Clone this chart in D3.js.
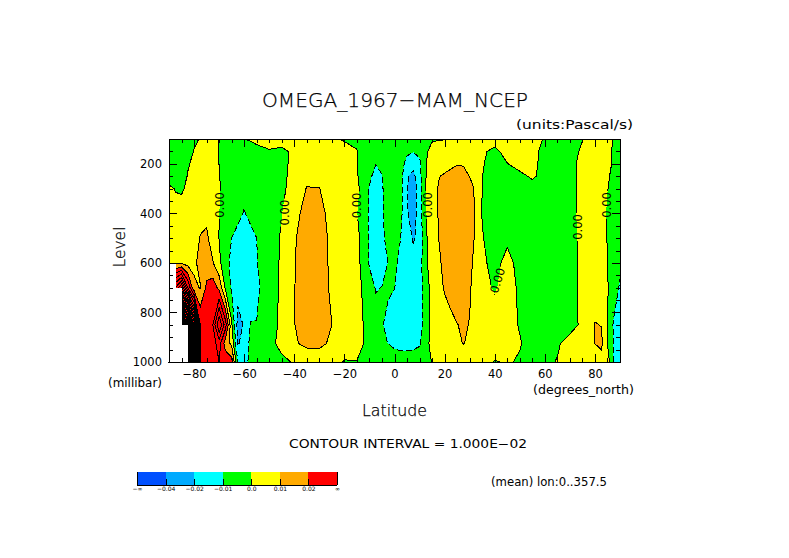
<!DOCTYPE html>
<html>
<head>
<meta charset="utf-8">
<title>OMEGA_1967-MAM_NCEP</title>
<script src="https://cdn.jsdelivr.net/npm/d3@7"></script>
<style>
  body { margin: 0; background: #fff; }
  text { font-family: "DejaVu Sans", sans-serif; fill: #000; }
  .tick text { font-family: "DejaVu Sans", sans-serif; }
</style>
</head>
<body>
<div id="chart"></div>
<script>
// latitude and pressure of the grid points
const lats = [-90,-87.5,-85,-82.5,-80,-77.5,-75,-72.5,-70,-67.5,-65,-62.5,-60,-57.5,-55,
  -50,-45,-40,-35,-30,-25,-20,-15,-10,
  -7.5,-5,-2.5,0,2.5,5,7.5,10,12.5,15,17.5,20,22.5,25,27.5,30,32.5,35,
  40,45,50,55,60,65,70,75,
  77.5,80,82.5,85,87.5,90];
const levels = [100,150,200,250,300,400,500,600,700,850,925,1000];

// omega, in 0.001 Pa/s, one list per level
const omega100 = [-4,-4,-4,-3.5,-1.5,0.5,2.5,1.5,-0.1,-2,-3,-2,-0.05,0.5,1,
  2,3,4,3.5,2.5,0.8,-0.5,-1,-2.5,
  -3,-3,-3,-3,-4,-5,-5.5,-5,-3,-0.6,-0.4,-0.3,-0.3,-0.1,0.5,1,1.5,1.5,
  1.5,1.2,1,0.5,-0.1,-1,-1,-0.2,
  1.5,2.5,3,1.5,-0.5,-2];
const omega150 = [-4.5,-5,-4.5,-3.5,0.4,2.5,3.5,3,-0.1,-3,-4,-4,-3,-2.2,-1.2,
  -0.4,-1.5,1.5,4,4.5,4,2,0.2,-4,
  -5,-5,-5,-4.5,-6,-8,-9.5,-8,-1,2,3,4,4.5,5,4.5,4,3,0.5,
  -0.8,1.2,2,1,-1,-2.5,-2,0.8,
  3,4,4,2,-0.8,-2];
const omega200 = [-5,-5.5,-5,-0.8,1.8,4,5,4,-0.1,-3.5,-5,-5.5,-5.5,-4.5,-3.5,
  -2.5,-1.5,1.5,5,6,5.5,3.5,0.4,-6,
  -9.8,-8.5,-6.5,-5,-6,-13.5,-16.5,-12,-0.2,3,5,7,8.5,9.7,9.5,8,5.5,0.3,
  -1.5,-0.1,1.5,0.8,-1,-3,-1.5,1.5,
  4,5,4.5,2,-1,-2.5];
const omega250 = [-5,-5,-4,0.5,3,5,6,5,0.4,-3.5,-5.5,-6.5,-7,-6,-5,
  -3.5,-1.5,2,7,8.5,7.5,4.5,0.8,-8.5,
  -12.5,-10.3,-6,-5,-6.5,-19,-23,-13,-0.2,3.5,9.5,11,12,12.5,12,9.8,6,0.1,
  -3,-2.5,-1,0.6,-1.3,-3,-1.5,1.5,
  4.5,6,5.5,1,-2,-3];
const omega300 = [2,-0.5,-1,1.5,3.5,5.5,6.5,5.5,0.8,-3,-5.5,-7,-8,-7,-6,
  -4,-1.5,3,10.5,10.1,8,5,2.5,-10.5,
  -14,-10.5,-7.5,-5.5,-6.5,-19.5,-26,-14,0.3,4.5,10.5,13,14.5,15,15,14,8,-0.1,
  -5,-5,-4,-1.5,-3,-3.5,-1.5,1.5,
  5,6.5,6,0.3,-3,-3.5];
const omega400 = [2,3,3,4,5,7,8,5,0.1,-3,-5,-8,-10.5,-8,-6,
  -3,-0.2,6.5,14,14,5.5,4,0.4,-11,
  -14.5,-10.8,-7,-5,-7.5,-19,-25,-15,-0.4,3.5,10.5,13.5,15,15.5,15.5,14.5,8.5,-0.5,
  -6,-7,-6.5,-5.5,-4.5,-3.5,-1.5,1.5,
  5,7,5.5,-1.5,-4,-4];
const omega500 = [4,4.5,5,5,6,10.5,11.5,6,-0.2,-6,-10,-12.5,-14,-12.5,-10,
  -3.5,0.8,9,15,15.5,7,5,3,-11,
  -15,-12,-7,-5.5,-10,-15,-21,-17,-1,4,9.8,13.5,15,16,16,15,8,0.6,
  -4.5,-1.5,-6.5,-5.5,-4.5,-3.5,-1.5,1,
  4.5,6,5,-0.5,-3.5,-4];
const omega600 = [5,8,8,6,8,13,15,10.5,2.5,-7,-12,-14,-15,-14,-10.5,
  -3.5,1,9.5,15,15.5,7.5,5,3.5,-11,
  -14,-12.5,-9.8,-8.5,-12,-15,-17,-15,-1.5,4,8.5,12,14.5,15.5,15.5,13,6,1.5,
  -2.5,2.5,-2.5,-3.5,-3.5,-3,-1.5,1,
  4,5,4.5,0,-4,-7];
const omega700 = [60,60,80,40,12,9.5,22,26,17,-1,-11.5,-16,-17,-15,-12,
  -4,1.5,9.7,15.5,15.5,8,5,3.5,-6,
  -10.5,-9.8,-9,-9.8,-13,-15,-16,-15,-3,2.5,7,10.8,13,14,14,11,6,1.5,
  -0.5,2,-0.8,-3,-3,-2.5,-1.5,1,
  3.5,4,4,0.5,-4,-11.5];
const omega850 = [200,250,240,180,110,30,22,30,60,35,1.5,-24,-19,-9.5,-9.7,
  -3,1.5,9.7,15,16,10,6,4,-4,
  -7,-9.5,-12,-15,-17,-17.5,-17,-16.5,-3,1.5,4.5,6,8,9.8,11,9.7,7,4.5,
  2.5,1.5,-0.3,-2,-2.5,-2.5,-1.5,0.8,
  7,10.5,9.7,0,-11.5,-14];
const omega925 = [300,350,350,300,200,30,25,25,35,15,8,-21,-16,-8,-5,
  -2,2,9,12,12,8.5,4,3,-2.5,
  -5,-8,-10.2,-13,-15,-15,-14,-11.5,-2,2,4,5.5,7,8.5,10.3,8.5,6.5,4.5,
  3,2,0.3,-1.5,-1.5,-0.5,1.5,1.5,
  5,10.1,12.5,0,-10.5,-12];
const omega1000 = [400,450,450,350,180,27,24,23,30,28,24,-10.2,-11.5,-9,-6,
  -3.5,-1.5,0.6,4,5,3,-0.5,-0.3,-2,
  -2,-2,-2,-2.5,-2.5,-2.5,-2.5,-2,-1.5,0.2,1,1.5,2,2,3,3,3,2.5,
  -0.3,0.5,-0.5,-1,-0.8,0.2,1.5,3,
  4,5,5,5,-11,-12];

// colour bands and their limits (same unit as omega)
const bandBreaks = [-40,-20,-10,0,10,20];
const bandColors = ["#0050ff","#00aaff","#00ffff","#00ff00","#ffff00","#ffaa00","#ff0000"];
const barLabels = ["−∞","−0.04","−0.02","−0.01","0.0","0.01","0.02","∞"];

// below-ground part: from this level down, nothing west of this latitude
const groundLevels = [600,700,850];
const groundLats = [-87.3,-85,-82.5];

// the "0.00" contour labels
const labelLats = [-69.85,-43.7,-15,13.2,73.1,84.7,41.1];
const labelLevels = [366,397,368,366,455,366,671];
const labelAngles = [-90,-90,-90,-90,-90,-90,-72];

const latTicks = [-80,-60,-40,-20,0,20,40,60,80];
const levelTicks = [200,400,600,800,1000];

const width = 789;
const height = 558;

const x = d3.scaleLinear().domain([-90,90]).range([169,620]);
const y = d3.scaleLinear().domain([100,1000]).range([139,362]);

const rows = [omega100,omega150,omega200,omega250,omega300,omega400,omega500,omega600,omega700,omega850,omega925,omega1000];
const values = rows.flat();

const svg = d3.select("#chart").append("svg")
  .attr("width", width)
  .attr("height", height)
  .style("display", "block");

// d3.contours puts grid value i at i+0.5, so map that back to lat/level
const gridX = d3.scaleLinear().domain(lats.map((d,i) => i+0.5)).range(lats.map(d => x(d))).clamp(true);
const gridY = d3.scaleLinear().domain(levels.map((d,i) => i+0.5)).range(levels.map(d => y(d))).clamp(true);
const path = d3.geoPath(d3.geoTransform({
  point: function(px, py) { this.stream.point(gridX(px), gridY(py)); }
}));

const contours = d3.contours().size([lats.length, levels.length]);

// fills
const plot = svg.append("g").attr("shape-rendering", "crispEdges");
plot.append("rect")
  .attr("x", x(-90)).attr("y", y(100))
  .attr("width", x(90)-x(-90)).attr("height", y(1000)-y(100))
  .attr("fill", bandColors[0]);
plot.selectAll("path.band")
  .data(contours.thresholds(bandBreaks)(values))
  .enter()
  .append("path")
  .attr("class", "band")
  .attr("d", path)
  .attr("fill", (d,i) => bandColors[i+1]);

// the lines leave a gap where a label sits
const mask = svg.append("mask").attr("id", "labelgaps")
  .attr("maskUnits", "userSpaceOnUse")
  .attr("x", 0).attr("y", 0).attr("width", width).attr("height", height);
mask.append("rect").attr("width", width).attr("height", height).attr("fill", "#fff");
mask.selectAll("rect.gap")
  .data(labelLats)
  .enter()
  .append("rect")
  .attr("class", "gap")
  .attr("x", -14).attr("y", -5).attr("width", 28).attr("height", 10)
  .attr("fill", "#000")
  .attr("transform", (d,i) => `translate(${x(d)},${y(labelLevels[i])}) rotate(${labelAngles[i]})`);

// contour lines every 0.01, negative ones dashed
const lineLevels = d3.range(-20, 451, 10);
plot.append("g")
  .attr("mask", "url(#labelgaps)")
  .selectAll("path")
  .data(contours.thresholds(lineLevels)(values))
  .enter()
  .append("path")
  .attr("d", path)
  .attr("fill", "none")
  .attr("stroke", "#000")
  .attr("stroke-width", 1)
  .attr("stroke-dasharray", d => d.value < 0 ? "6 3" : null);

// missing data
plot.selectAll("rect.ground")
  .data(groundLevels)
  .enter()
  .append("rect")
  .attr("class", "ground")
  .attr("x", x(-90))
  .attr("y", d => y(d))
  .attr("width", (d,i) => x(groundLats[i])-x(-90))
  .attr("height", (d,i) => y(i < 2 ? groundLevels[i+1] : 1000)-y(d))
  .attr("fill", "#fff");

svg.selectAll("text.contourlabel")
  .data(labelLats)
  .enter()
  .append("text")
  .attr("class", "contourlabel")
  .attr("transform", (d,i) => `translate(${x(d)},${y(labelLevels[i])}) rotate(${labelAngles[i]})`)
  .attr("text-anchor", "middle")
  .attr("dy", "0.36em")
  .style("font-size", "11.5px")
  .text("0.00");

// axes, ticks point inward
function drawAxis(axis, transform) {
  const g = svg.append("g").attr("transform", transform).call(axis);
  g.attr("shape-rendering", "crispEdges");
  g.selectAll("path,line").attr("stroke", "#000");
  g.selectAll("text").style("font-size", "11.5px").attr("fill", "#000");
  return g;
}
const latMinor = d3.range(-90, 91, 5);
const levelMinor = d3.range(100, 1001, 50);
drawAxis(d3.axisBottom(x).tickValues(latMinor).tickSize(-4).tickFormat(""), `translate(0,${y(1000)})`);
drawAxis(d3.axisTop(x).tickValues(latMinor).tickSize(-4).tickFormat(""), `translate(0,${y(100)})`);
drawAxis(d3.axisLeft(y).tickValues(levelMinor).tickSize(-4).tickFormat(""), `translate(${x(-90)},0)`);
drawAxis(d3.axisRight(y).tickValues(levelMinor).tickSize(-4).tickFormat(""), `translate(${x(90)},0)`);
drawAxis(d3.axisBottom(x).tickValues(latTicks).tickSize(-8).tickPadding(8), `translate(0,${y(1000)})`);
drawAxis(d3.axisTop(x).tickValues(latTicks).tickSize(-8).tickFormat(""), `translate(0,${y(100)})`);
drawAxis(d3.axisLeft(y).tickValues(levelTicks).tickSize(-8).tickPadding(7).tickFormat(d3.format("d")), `translate(${x(-90)},0)`);
drawAxis(d3.axisRight(y).tickValues(levelTicks).tickSize(-8).tickFormat(""), `translate(${x(90)},0)`);

// texts
function addText(str, px, py, size, anchor, length, thin) {
  const t = svg.append("text")
    .attr("x", px).attr("y", py)
    .attr("text-anchor", anchor)
    .style("font-size", size + "px")
    .text(str);
  if (length) t.attr("textLength", length).attr("lengthAdjust", "spacingAndGlyphs");
  if (thin) t.style("font-weight", 200).style("stroke", "#000").style("stroke-width", 0.25);
  return t;
}
addText("OMEGA_1967−MAM_NCEP", 395, 107, 20, "middle", 266, true);
addText("(units:Pascal/s)", 633, 129, 12, "end", 117, false);
addText("(millibar)", 162, 387, 11.5, "end", 54, false);
addText("(degrees_north)", 634, 394, 11.5, "end", 101, false);
addText("Latitude", 394.5, 416, 15.5, "middle", 65, true);
addText("CONTOUR INTERVAL = 1.000E−02", 408, 448, 11.5, "middle", 238, false);
addText("(mean) lon:0..357.5", 549, 486, 11.5, "middle", 116, false);
svg.append("text")
  .attr("transform", "translate(125,247) rotate(-90)")
  .attr("text-anchor", "middle")
  .style("font-size", "15.5px")
  .style("font-weight", 200)
  .style("stroke", "#000")
  .style("stroke-width", 0.25)
  .text("Level");

// colour bar
const barBand = d3.scaleBand().domain(d3.range(bandColors.length)).range([137,337]);
const barAxis = d3.scalePoint().domain(barLabels).range([137,337]);
svg.append("g").attr("shape-rendering", "crispEdges")
  .selectAll("rect")
  .data(bandColors)
  .enter()
  .append("rect")
  .attr("x", (d,i) => barBand(i))
  .attr("y", 472)
  .attr("width", barBand.bandwidth())
  .attr("height", 13)
  .attr("fill", d => d);
const barG = drawAxis(d3.axisBottom(barAxis).tickSize(-6).tickPadding(2), "translate(0,485)");
barG.select(".domain").remove();
barG.append("line").attr("x1", 137).attr("x2", 337).attr("stroke", "#000");
barG.selectAll("text").style("font-size", "6px");
barG.selectAll(".tick line").filter((d,i) => i === 0 || i === barLabels.length-1).attr("y2", -13);
</script>
</body>
</html>
